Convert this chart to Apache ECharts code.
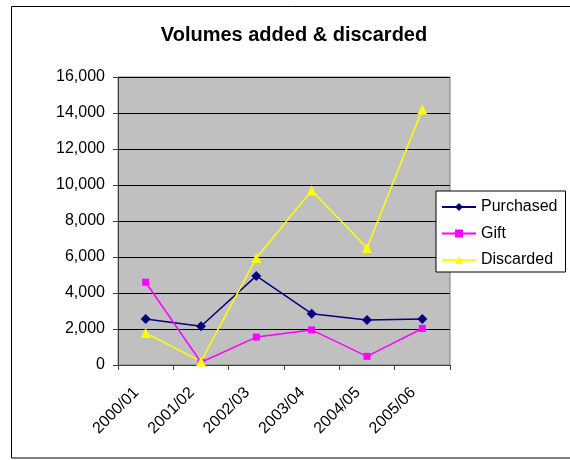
<!DOCTYPE html>
<html><head><meta charset="utf-8">
<script src="https://cdn.jsdelivr.net/npm/echarts@6/dist/echarts.min.js"></script>
<style>html,body{margin:0;padding:0;background:#fff}#c{width:570px;height:460px}</style>
</head><body><div id="c"></div>
<script>
var categories = ['2000/01','2001/02','2002/03','2003/04','2004/05','2005/06'];
var purchased = [2550, 2150, 4950, 2850, 2500, 2550];
var gift = [4600, 150, 1550, 1950, 480, 2030];
var discarded = [1780, 200, 5950, 9700, 6500, 14200];
var yTicks = [0, 2000, 4000, 6000, 8000, 10000, 12000, 14000, 16000];

var chart = echarts.init(document.getElementById('c'), null, {renderer:'canvas'});
var font = 'Arial, "Liberation Sans", sans-serif';
chart.setOption({
  animation: false,
  backgroundColor: '#fff',
  title: {
    text: 'Volumes added & discarded', left: 289, top: 20, textAlign: 'center',
    textStyle: {fontFamily: font, fontSize: 20, fontWeight: 'bold', color: '#000'}
  },
  graphic: [{
    type: 'rect', shape: {x: 11.5, y: 6.5, width: 570, height: 451.5},
    style: {fill: 'none', stroke: '#000', lineWidth: 1}, z: -1
  }],
  grid: {
    left: 118, top: 77, right: 120, bottom: 95, show: true,
    backgroundColor: '#C0C0C0', borderColor: '#808080', borderWidth: 1
  },
  legend: {
    orient: 'vertical', left: 436, top: 191, width: 131, height: 80,
    backgroundColor: '#fff', borderColor: '#000', borderWidth: 1,
    padding: [8, 8, 4, 5], itemGap: 10.5, itemWidth: 34, itemHeight: 10,
    textStyle: {fontFamily: font, fontSize: 16, color: '#000', padding: [0,0,0,0]},
    data: ['Purchased', 'Gift', 'Discarded']
  },
  xAxis: {
    type: 'category', data: categories, boundaryGap: true,
    axisLine: {lineStyle: {color: '#404040', width: 1}},
    axisTick: {show: true, length: 5, lineStyle: {color: '#404040'}},
    axisLabel: {rotate: 45, fontFamily: font, fontSize: 16, color: '#000', margin: 16,
      padding: [0, 13, 0, 0]}
  },
  yAxis: {
    type: 'value', min: 0, max: 16000, interval: 2000,
    axisLine: {show: true, lineStyle: {color: '#404040', width: 1}},
    axisTick: {show: true, length: 5, lineStyle: {color: '#404040'}},
    splitLine: {lineStyle: {color: '#000', width: 1}},
    axisLabel: {fontFamily: font, fontSize: 16, color: '#000', margin: 13,
      formatter: function(v){ return yTicks.indexOf(v) >= 0 ? v.toLocaleString('en-US') : ''; }}
  },
  series: [
    {name: 'Purchased', type: 'line', data: purchased, symbol: 'diamond', symbolSize: 10,
     lineStyle: {color: '#000080', width: 1.5}, itemStyle: {color: '#000080'}},
    {name: 'Gift', type: 'line', data: gift, symbol: 'rect', symbolSize: 7,
     lineStyle: {color: '#FF00FF', width: 1.5}, itemStyle: {color: '#FF00FF'}},
    {name: 'Discarded', type: 'line', data: discarded, symbol: 'triangle', symbolSize: 10,
     lineStyle: {color: '#FFFF00', width: 1.5}, itemStyle: {color: '#FFFF00'}}
  ]
});
</script></body></html>
